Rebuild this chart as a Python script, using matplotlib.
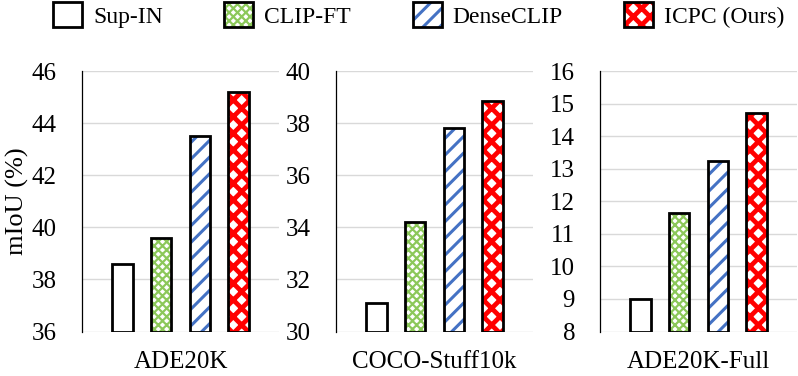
import matplotlib
matplotlib.use("Agg")
import matplotlib.pyplot as plt
from matplotlib.patches import Patch

plt.rcParams['font.family'] = ['Liberation Serif', 'DejaVu Serif']

# data
methods = ['Sup-IN', 'CLIP-FT', 'DenseCLIP', 'ICPC (Ours)']
datasets = ['ADE20K', 'COCO-Stuff10k', 'ADE20K-Full']
ade20k = [38.6, 39.6, 43.5, 45.2]
coco_stuff = [31.1, 34.2, 37.8, 38.85]
ade20k_full = [9.0, 11.65, 13.25, 14.7]
ylims = [(36, 46), (30, 40), (8, 16)]
ysteps = [2, 2, 1]

# bar styles: face, hatch, hatch colour, hatch width
styles = [
    ('white', '', 'black', 1.0),
    ('white', 'xxxx', '#8cc85a', 1.6),
    ('white', '//', '#4472c4', 2.2),
    ('white', 'xx', '#ff0000', 3.4),
]

fig = plt.figure(figsize=(7.98, 3.76), dpi=100)
W, H = 798, 376
lefts = [82, 336, 600]
bottom = 1 - 331.5 / H
height = (331.5 - 71) / H
width = 197 / W

all_vals = [ade20k, coco_stuff, ade20k_full]
for i, vals in enumerate(all_vals):
    ax = fig.add_axes([lefts[i] / W, bottom, width, height])
    lo, hi = ylims[i]
    ax.set_ylim(lo, hi)
    ax.set_xlim(-1.05, 4.05)
    for j, v in enumerate(vals):
        face, hatch, hcol, hlw = styles[j]
        bar = ax.bar(j, v - lo, bottom=lo, width=0.53, facecolor=face,
                     edgecolor=hcol, hatch=hatch, linewidth=0, zorder=2)[0]
        bar.set_hatch_linewidth(hlw)
        # black outline on top
        ax.bar(j, v - lo, bottom=lo, width=0.53, facecolor='none',
               edgecolor='black', linewidth=2.0, zorder=3)
    ax.set_yticks(range(lo, hi + 1, ysteps[i]))
    ax.set_xticks([])
    ax.tick_params(axis='y', length=0, pad=18, labelsize=18)
    ax.grid(axis='y', color='#d9d9d9', linewidth=1.0)
    ax.set_axisbelow(True)
    for s in ['top', 'right', 'bottom']:
        ax.spines[s].set_visible(False)
    ax.spines['left'].set_linewidth(0.9)
    ax.set_xlabel(datasets[i], fontsize=18, labelpad=14)
    if i == 0:
        ax.set_ylabel('mIoU (%)', fontsize=19, labelpad=2)

handles = []
for j, m in enumerate(methods):
    face, hatch, hcol, hlw = styles[j]
    p = Patch(facecolor=face, edgecolor='black', hatch=hatch, linewidth=2.0, label=m)
    handles.append(p)

leg = fig.legend(handles=handles, loc='upper left', bbox_to_anchor=(53 / W, 1 - 2 / H),
                 ncol=4, frameon=False, fontsize=17, handlelength=1.23,
                 handleheight=1.27, handletextpad=0.47, columnspacing=2.6,
                 borderpad=0, borderaxespad=0)
for j, p in enumerate(leg.get_patches()):
    face, hatch, hcol, hlw = styles[j]
    p.set_hatch_linewidth(hlw)
    if hatch:
        p._hatch_color = matplotlib.colors.to_rgba(hcol)

fig.savefig('out.png', dpi=100)
